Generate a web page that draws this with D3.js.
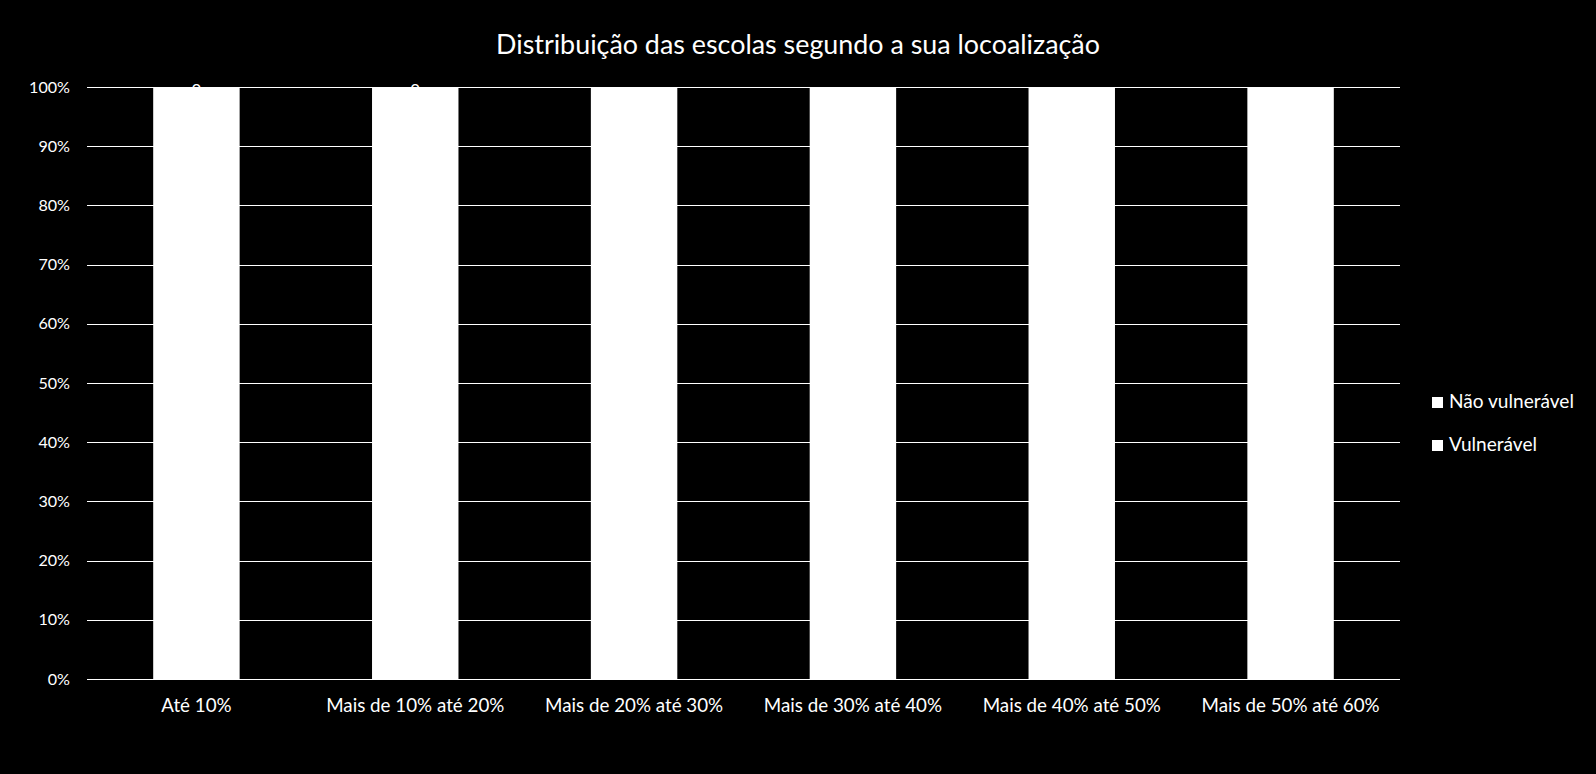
<!DOCTYPE html>
<html><head><meta charset="utf-8">
<script src="https://cdn.jsdelivr.net/npm/d3@7"></script>
<style>html,body{margin:0;padding:0;background:#000;overflow:hidden}</style>
</head><body>
<svg id="chart" width="1596" height="774"></svg>
<script>
const title = "Distribuição das escolas segundo a sua locoalização";
const categories = ["Até 10%", "Mais de 10% até 20%", "Mais de 20% até 30%", "Mais de 30% até 40%", "Mais de 40% até 50%", "Mais de 50% até 60%"];
const naoVulneravel = [100, 100, 100, 100, 100, 100];
const vulneravel = [0, 0, null, null, null, null];
const seriesNames = ["Não vulnerável", "Vulnerável"];
const yTicks = [0, 0.1, 0.2, 0.3, 0.4, 0.5, 0.6, 0.7, 0.8, 0.9, 1.0];

const FONT = "Lato, 'Open Sans', sans-serif";
const svg = d3.select("#chart");
svg.append("rect").attr("width", 1596).attr("height", 774).attr("fill", "#000");

const plot = {left: 87, right: 1400, top: 87, bottom: 679};
const x = d3.scaleBand().domain(categories).range([plot.left, plot.right]).paddingInner(0.605).paddingOuter(0.3025);
const y = d3.scaleLinear().domain([0, 1]).range([plot.bottom, plot.top]);

function fit(sel, target) {
  const node = sel.node();
  const w = node.getComputedTextLength();
  return target / w;
}

// gridlines
const g = svg.append("g");
g.selectAll("line.grid").data(yTicks).join("line")
  .attr("x1", plot.left).attr("x2", plot.right)
  .attr("y1", d => Math.round(y(d)) + 0.5).attr("y2", d => Math.round(y(d)) + 0.5)
  .attr("stroke", "#fff").attr("stroke-width", 1);

// y axis labels
const yAxis = d3.axisLeft(y).tickValues(yTicks).tickFormat(d3.format(".0%")).tickSize(0).tickPadding(17);
const ya = svg.append("g").attr("transform", `translate(${plot.left},0)`).call(yAxis);
ya.select(".domain").remove();
ya.selectAll("text").attr("fill", "#fff").attr("font-family", FONT).attr("font-size", 16);
{
  const t = ya.selectAll("text").filter(d => d === 1);
  const s = 16 * fit(t, 41);
  ya.selectAll("text").attr("font-size", s);
}

const rows = categories.map((c, i) => {
  const a = naoVulneravel[i], b = vulneravel[i] == null ? 0 : vulneravel[i];
  const tot = a + b;
  return {cat: c, nv: a / tot, v: b / tot, vRaw: vulneravel[i]};
});

svg.append("g").selectAll("rect").data(rows).join("rect")
  .attr("x", d => x(d.cat)).attr("width", x.bandwidth())
  .attr("y", d => y(d.nv)).attr("height", d => y(0) - y(d.nv))
  .attr("fill", "#fff");
svg.append("g").selectAll("rect").data(rows).join("rect")
  .attr("x", d => x(d.cat)).attr("width", x.bandwidth())
  .attr("y", d => y(d.nv + d.v)).attr("height", d => y(d.nv) - y(d.nv + d.v))
  .attr("fill", "#fff");

const axisFontSize = +ya.select("text").attr("font-size");
svg.append("g").selectAll("text").data(rows.filter(d => d.vRaw != null)).join("text")
  .attr("x", d => x(d.cat) + x.bandwidth() / 2)
  .attr("y", d => y(d.nv + d.v / 2) + 1)
  .attr("text-anchor", "middle").attr("dominant-baseline", "central")
  .attr("fill", "#fff").attr("font-family", FONT).attr("font-size", axisFontSize)
  .text(d => d.vRaw);

const xAxis = d3.axisBottom(x).tickSize(0).tickPadding(0);
const xa = svg.append("g").attr("transform", `translate(0,${plot.bottom})`).call(xAxis);
xa.select(".domain").remove();
xa.selectAll("text").attr("fill", "#fff").attr("font-family", FONT)
  .attr("font-size", axisFontSize).attr("dy", null).attr("y", 25.5).attr("dominant-baseline", "central");
{
  const t = xa.selectAll("text").filter(d => d === categories[5]);
  const s = axisFontSize * fit(t, 178);
  xa.selectAll("text").attr("font-size", s);
}

const tt = svg.append("text").attr("x", 798).attr("y", 43)
  .attr("text-anchor", "middle").attr("dominant-baseline", "central")
  .attr("fill", "#fff").attr("font-family", FONT).attr("font-size", 24).text(title);
tt.attr("font-size", 24 * fit(tt, 604));

const legY = [402, 445];
const leg = svg.append("g").selectAll("g").data(seriesNames).join("g")
  .attr("transform", (d, i) => `translate(1432,${legY[i]})`);
leg.append("rect").attr("x", 0).attr("y", -5).attr("width", 11).attr("height", 11).attr("fill", "#fff");
const lt = leg.append("text").attr("x", 17).attr("y", -1.5).attr("dominant-baseline", "central")
  .attr("fill", "#fff").attr("font-family", FONT).attr("font-size", 17).text(d => d);
{
  const t = lt.filter(d => d === seriesNames[0]);
  lt.attr("font-size", 17 * fit(t, 125));
}
</script>
</body></html>
